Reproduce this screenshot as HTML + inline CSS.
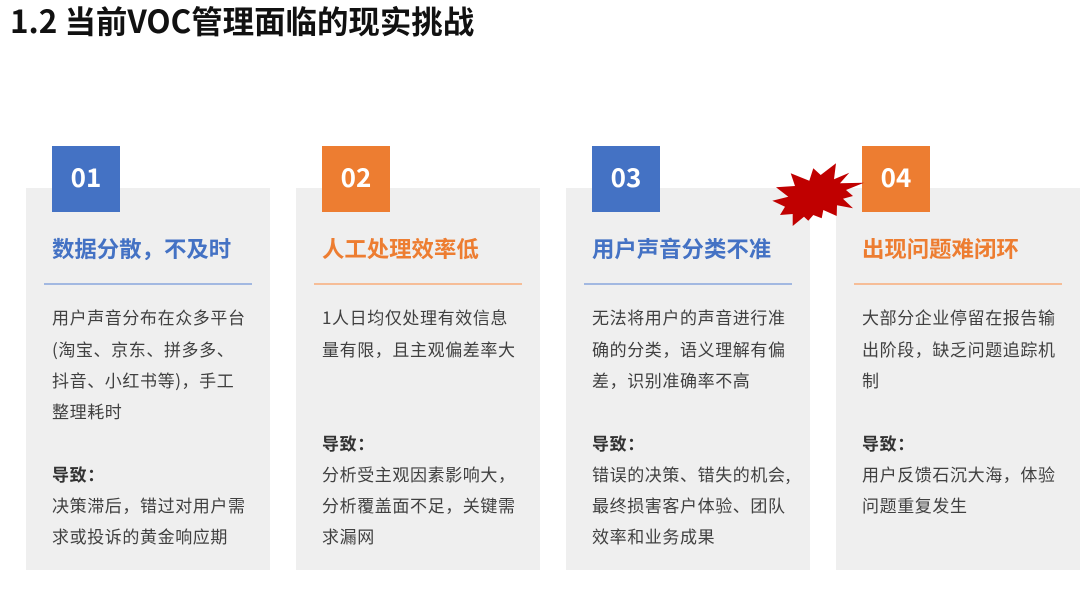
<!DOCTYPE html>
<html><head><meta charset="utf-8">
<style>
html,body{margin:0;padding:0;background:#fff;}
body{width:1080px;height:612px;position:relative;overflow:hidden;font-family:"Liberation Sans","Noto Sans CJK SC",sans-serif;}
.a{position:absolute;}
.cjk{font-family:"Noto Sans CJK SC",sans-serif;}
.card{position:absolute;top:188px;width:244px;height:382px;background:#efefef;}
.num{position:absolute;top:146px;width:68px;height:66px;color:#fff;font:bold 26px/62px "Noto Sans CJK SC",sans-serif;text-align:center;}
.h{position:absolute;top:232px;font:bold 22.4px/32px "Noto Sans CJK SC",sans-serif;white-space:nowrap;}
.rule{position:absolute;top:283px;width:208px;height:2px;}
.t{position:absolute;font:17px/31.3px "Noto Sans CJK SC",sans-serif;color:#404040;white-space:nowrap;letter-spacing:.6px;}
.t b{font-weight:bold;color:#333;}
.blue{background:#4472c4}.org{background:#ed7d31}
</style></head><body>
<div class="a cjk" style="left:10px;top:-1px;font-weight:bold;font-size:31.45px;line-height:44px;color:#111;white-space:nowrap;">1.2 当前VOC管理面临的现实挑战</div>

<div class="card" style="left:26px"></div>
<div class="card" style="left:296px"></div>
<div class="card" style="left:566px"></div>
<div class="card" style="left:836px"></div>

<div class="num blue" style="left:52px">01</div>
<div class="num org" style="left:322px">02</div>
<div class="num blue" style="left:592px">03</div>
<div class="num org" style="left:862px">04</div>

<div class="h" style="left:52px;color:#4472c4">数据分散，不及时</div>
<div class="h" style="left:322px;color:#ed7d31">人工处理效率低</div>
<div class="h" style="left:592px;color:#4472c4">用户声音分类不准</div>
<div class="h" style="left:862px;color:#ed7d31">出现问题难闭环</div>

<div class="rule" style="left:44px;background:#a2b8e1"></div>
<div class="rule" style="left:314px;background:#f6bd97"></div>
<div class="rule" style="left:584px;background:#a2b8e1"></div>
<div class="rule" style="left:854px;background:#f6bd97"></div>

<div class="t" style="left:52px;top:301.4px">用户声音分布在众多平台<br>(淘宝、京东、拼多多、<br>抖音、小红书等)，手工<br>整理耗时<br><br><b>导致：</b><br>决策滞后，错过对用户需<br>求或投诉的黄金响应期</div>
<div class="t" style="left:322px;top:301.4px">1人日均仅处理有效信息<br>量有限，且主观偏差率大<br><br><br><b>导致：</b><br>分析受主观因素影响大，<br>分析覆盖面不足，关键需<br>求漏网</div>
<div class="t" style="left:592px;top:301.4px">无法将用户的声音进行准<br>确的分类，语义理解有偏<br>差，识别准确率不高<br><br><b>导致：</b><br>错误的决策、错失的机会,<br>最终损害客户体验、团队<br>效率和业务成果</div>
<div class="t" style="left:862px;top:301.4px">大部分企业停留在报告输<br>出阶段，缺乏问题追踪机<br>制<br><br><b>导致：</b><br>用户反馈石沉大海，体验<br>问题重复发生</div>

<svg class="a" style="left:0;top:0" width="1080" height="612" viewBox="0 0 1080 612">
<polygon fill="#c00000" points="864,182.7 846,190 853,196 843,198.7 853,208.3 837,205.3 836.7,216 823.3,210 821.7,218.3 813.3,215 808.3,220.7 804,216.7 792.7,226 792.7,214 780,215 785,206.7 772.3,200.7 788.3,196.7 776,187.3 795,186 790.7,173.3 809.3,180.7 813.3,168.3 820.7,175 836,163.3 834,179.3 849.3,172.7 840,183.3"/>
</svg>
</body></html>
